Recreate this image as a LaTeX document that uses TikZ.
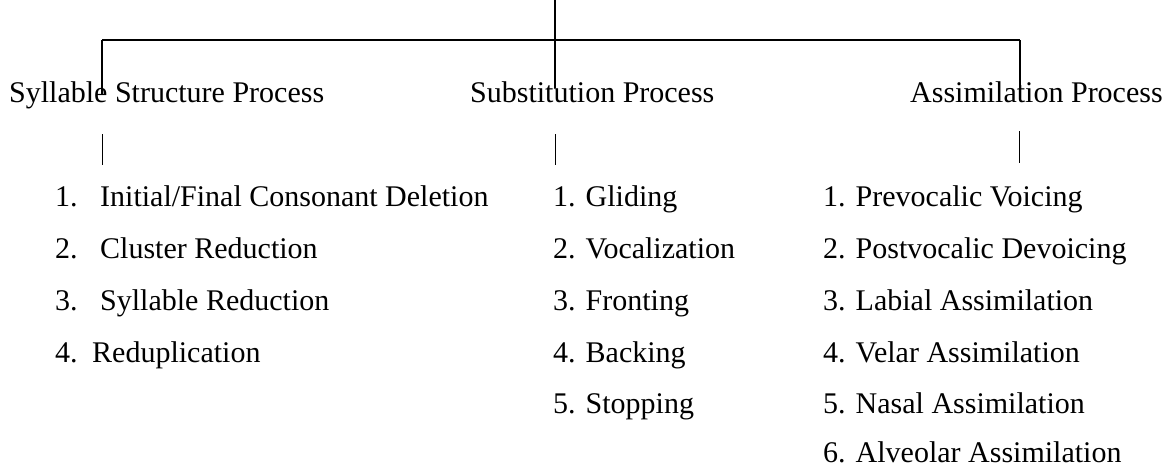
\documentclass[tikz,border=0pt]{standalone}
\usepackage{fontspec}
\setmainfont{Liberation Serif}
\begin{document}
\begin{tikzpicture}[x=1pt,y=-1pt,
  txt/.style={anchor=base west,inner sep=0pt,font=\fontsize{30}{36}\selectfont},
  link/.style={line width=1.3pt},
  bar/.style={line width=1pt}]
\useasboundingbox (0,0) rectangle (1167,467);

% top of the tree
\coordinate (root) at (555,0);
\coordinate (jl) at (102,40);
\coordinate (jm) at (555,40);
\coordinate (jr) at (1020,40);

% process classes
\node[txt] (syl) at (9,102) {Syllable Structure Process};
\node[txt] (sub) at (470,102) {Substitution Process};
\node[txt] (asm) at (910,102) {Assimilation Process};

\draw[link] (jl) -- (jr);
\draw[link] (root) -- (555,88);
\draw[link] (jl) -- (102,95);
\draw[link] (jr) -- (1020,88);

% short marks above each list
\coordinate (m1a) at (102,134); \coordinate (m1b) at (102,165);
\coordinate (m2a) at (555,134); \coordinate (m2b) at (555,165);
\coordinate (m3a) at (1019,131); \coordinate (m3b) at (1019,163);
\draw[bar] (m1a) -- (m1b);
\draw[bar] (m2a) -- (m2b);
\draw[bar] (m3a) -- (m3b);

% syllable structure list
\foreach \n/\y in {1/206,2/258,3/310,4/362}{
  \node[txt] (sn\n) at (55,\y) {\n.};
}
\node[txt] (s1) at (100,206) {Initial/Final Consonant Deletion};
\node[txt] (s2) at (100,258) {Cluster Reduction};
\node[txt] (s3) at (100,310) {Syllable Reduction};
\node[txt] (s4) at (92,362) {Reduplication};

% substitution list
\node[txt] (u1) at (553,206) {1. Gliding};
\node[txt] (u2) at (553,258) {2. Vocalization};
\node[txt] (u3) at (553,310) {3. Fronting};
\node[txt] (u4) at (553,362) {4. Backing};
\node[txt] (u5) at (553,413) {5. Stopping};

% assimilation list
\node[txt] (a1) at (823,206) {1. Prevocalic Voicing};
\node[txt] (a2) at (823,258) {2. Postvocalic Devoicing};
\node[txt] (a3) at (823,310) {3. Labial Assimilation};
\node[txt] (a4) at (823,362) {4. Velar Assimilation};
\node[txt] (a5) at (823,413) {5. Nasal Assimilation};
\node[txt] (a6) at (823,462) {6. Alveolar Assimilation};
\end{tikzpicture}
\end{document}
